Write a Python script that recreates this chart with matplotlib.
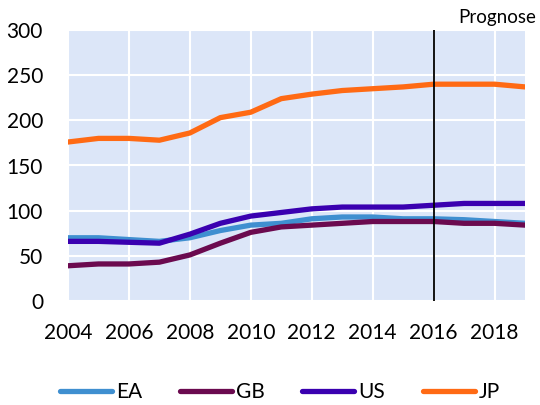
import numpy as np
import matplotlib
matplotlib.use("Agg")
import matplotlib.pyplot as plt

YEARS = np.arange(2004, 2020)
EA = [70, 70, 68, 66, 70, 78, 84, 86, 91, 93, 93, 91, 91, 90, 88, 86]
GB = [39, 41, 41, 43, 51, 64, 76, 82, 84, 86, 88, 88, 88, 86, 86, 84]
US = [66, 66, 65, 64, 74, 86, 94, 98, 102, 104, 104, 104, 106, 108, 108, 108]
JP = [176, 180, 180, 178, 186, 203, 209, 224, 229, 233, 235, 237, 240, 240, 240, 237]

SERIES = [("EA", EA, "#3f8fd0"),
          ("GB", GB, "#6b0a4f"),
          ("US", US, "#3a00b0"),
          ("JP", JP, "#ff6a14")]

plt.rcParams["font.family"] = ["Lato", "DejaVu Sans"]

fig = plt.figure(figsize=(5.4, 4.05), dpi=100)
ax = fig.add_axes([68 / 540, 1 - 301 / 405, 457 / 540, 271 / 405])
ax.set_facecolor("#dce6f8")

for name, vals, col in SERIES:
    ax.plot(YEARS, vals, color=col, lw=3.8, label=name, solid_capstyle="round")

ax.axvline(2016, color="black", lw=1.3)
ax.text(1.025, 1.015, "Prognose", transform=ax.transAxes, ha="right", va="bottom",
        fontsize=13.5)

ax.set_xlim(2004, 2019)
ax.set_ylim(0, 300)
ax.set_xticks(np.arange(2004, 2019, 2))
ax.set_yticks(np.arange(0, 301, 50))
ax.grid(True, color="white", lw=1.5)
ax.set_axisbelow(True)
for s in ax.spines.values():
    s.set_visible(False)
ax.tick_params(length=0, labelsize=15)
ax.tick_params(axis="x", pad=16)
ax.tick_params(axis="y", pad=18)

fig.legend(loc="center", bbox_to_anchor=(280 / 540, 1 - 392 / 405), ncol=4,
           frameon=False, fontsize=15, handlelength=2.5, handletextpad=0.2,
           columnspacing=1.8)

fig.savefig("out.png", dpi=100)
